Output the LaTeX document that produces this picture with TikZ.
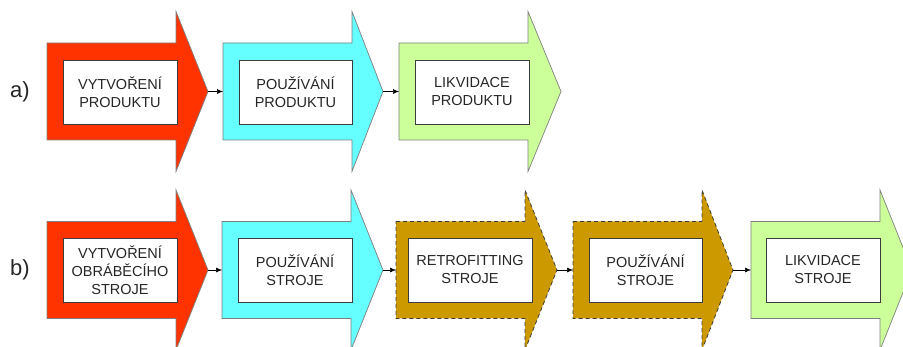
\documentclass[tikz,border=0pt]{standalone}
\usepackage{fontspec}
\setmainfont{Liberation Sans}
\usetikzlibrary{arrows.meta}
\definecolor{cRed}{HTML}{FF3300}
\definecolor{cCyan}{HTML}{66FFFF}
\definecolor{cGreen}{HTML}{CCFF99}
\definecolor{cGold}{HTML}{CC9900}
\definecolor{cEdge}{HTML}{7F7F7F}
\definecolor{cBox}{HTML}{3C3C3C}
\tikzset{
  solidchev/.style={draw=cEdge, line width=0.7pt, line join=miter},
  dashchev/.style={draw=cBox, line width=0.8pt, dash pattern=on 4pt off 3pt, line join=miter},
  phasebox/.style={draw=cBox, fill=white, line width=0.8pt, inner sep=0pt,
    align=center, font=\fontsize{14.5}{18}\selectfont, text=black!85},
  rowlabel/.style={font=\fontsize{22}{24}\selectfont, text=black!85},
  flow/.style={-{Latex[length=6pt,width=5pt]}, line width=0.6pt, black}
}
% chevron: style, left x, head base x, tip x, centre y, name
\newcommand\chevshape[6]{%
  \path[#1] (#2,{#5-48.5}) -- (#3,{#5-48.5}) -- (#3,{#5-80}) -- (#4,#5)
    -- (#3,{#5+80}) -- (#3,{#5+48.5}) -- (#2,{#5+48.5}) -- cycle;
  \coordinate (#6-tip) at (#4,#5);
  \coordinate (#6-in) at (#2,#5);
}
% phase box: name, left, right, top, bottom, text
\newcommand\phase[6]{%
  \node[phasebox, minimum width={(#3-#2)*1pt}, minimum height={(#5-#4)*1pt}]
    (#1) at ({(#2+#3)/2},{(#4+#5)/2}) {#6};
}
\begin{document}
\begin{tikzpicture}[x=1pt,y=-1pt]
\useasboundingbox (0,0) rectangle (903,347);
\begin{scope}
\clip (0,0) rectangle (903,347);
% row a
\chevshape{solidchev, fill=cRed}{47}{176}{208}{91.5}{a1}
\chevshape{solidchev, fill=cCyan}{223}{352}{383}{91.5}{a2}
\chevshape{solidchev, fill=cGreen}{399}{528}{561}{91.5}{a3}
% row b
\chevshape{solidchev, fill=cRed}{47}{176}{208}{270}{b1}
\chevshape{solidchev, fill=cCyan}{222}{351}{383}{270}{b2}
\chevshape{dashchev, fill=cGold}{396}{525}{557}{270}{b3}
\chevshape{dashchev, fill=cGold}{573}{702}{733}{270}{b4}
\chevshape{solidchev, fill=cGreen}{751}{880}{912}{270}{b5}
\end{scope}

\phase{pa1}{63}{177}{60}{124}{VYTVOŘENÍ\\PRODUKTU}
\phase{pa2}{239}{352}{60}{124}{POUŽÍVÁNÍ\\PRODUKTU}
\phase{pa3}{415}{529}{60}{124}{LIKVIDACE\\PRODUKTU}

\phase{pb1}{63}{177}{238}{302}{VYTVOŘENÍ\\OBRÁBĚCÍHO\\STROJE}
\phase{pb2}{238}{352}{238}{302}{POUŽÍVÁNÍ\\STROJE}
\phase{pb3}{408}{532}{238}{302}{RETROFITTING\\STROJE}
\phase{pb4}{589}{702}{238}{302}{POUŽÍVÁNÍ\\STROJE}
\phase{pb5}{766}{880}{238}{302}{LIKVIDACE\\STROJE}

\node[rowlabel] (la) at (20,92) {a)};
\node[rowlabel] (lb) at (20,270) {b)};

\draw[flow] (a1-tip) -- (a2-in);
\draw[flow] (a2-tip) -- (a3-in);
\draw[flow] (b1-tip) -- (b2-in);
\draw[flow] (b2-tip) -- (b3-in);
\draw[flow] (b3-tip) -- (b4-in);
\draw[flow] (b4-tip) -- (b5-in);
\end{tikzpicture}
\end{document}
